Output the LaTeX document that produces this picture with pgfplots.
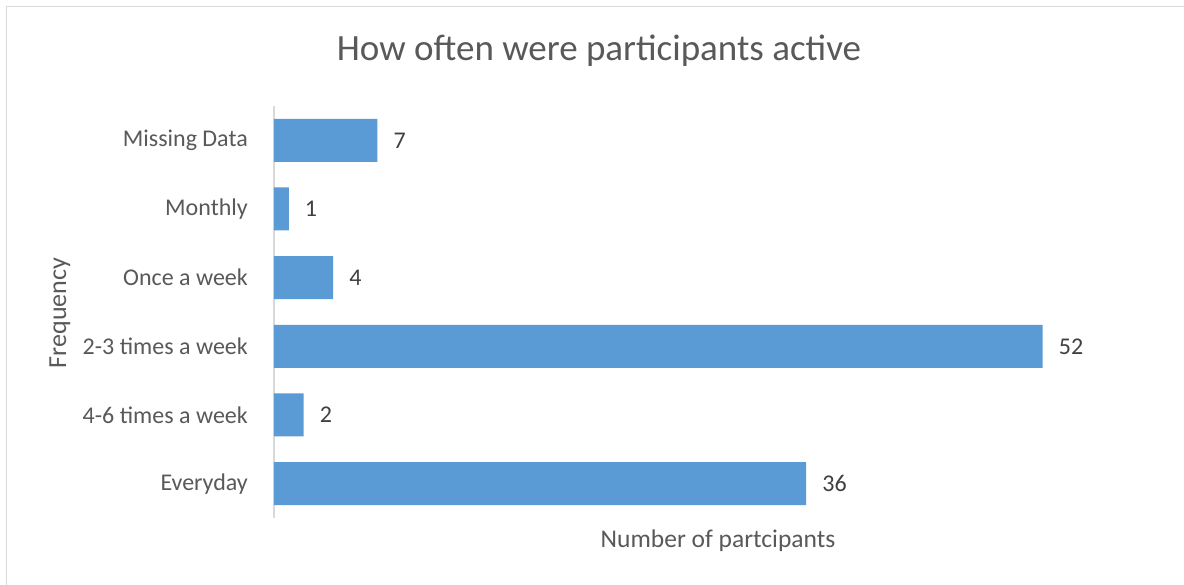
\documentclass[border=0pt]{standalone}
\usepackage{pgfplots}
\pgfplotsset{compat=1.18}
\usepackage{fontspec}
\setmainfont{Carlito}
\definecolor{barblue}{HTML}{5B9BD5}
\definecolor{txtgrey}{HTML}{595959}
\definecolor{valgrey}{HTML}{404040}
\definecolor{linegrey}{HTML}{D9D9D9}
\begin{document}
\begin{tikzpicture}[x=1bp,y=1bp]
\path[use as bounding box] (-274,-67) rectangle (910,518);
\fill[white] (-274,-67) rectangle (910,518);
\draw[linegrey, line width=1.5bp] (-267.5,-70) -- (-267.5,511.5) -- (915,511.5);
\begin{axis}[
  at={(0,0)}, anchor=south west,
  scale only axis, width=887bp, height=412bp,
  xbar, bar width=43bp,
  xmin=0, xmax=60, ymin=-0.5, ymax=5.5,
  axis x line=none, axis y line*=left,
  y axis line style={draw=linegrey, line width=1.5bp, -},
  major tick length=0pt,
  ytick={0,1,2,3,4,5},
  yticklabels={Everyday,4-6 times a week,2-3 times a week,Once a week,Monthly,Missing Data},
  yticklabel style={font=\fontsize{24bp}{28bp}\selectfont, text=txtgrey, inner sep=0pt, anchor=east, xshift=-26bp},
  /pgf/number format/assume math mode=true,
  nodes near coords,
  every node near coord/.append style={font=\fontsize{24bp}{28bp}\selectfont, text=valgrey, anchor=west, inner sep=0pt, xshift=16bp},
  clip=false,
]
\addplot[fill=barblue, draw=none] coordinates {(36,0) (2,1) (52,2) (4,3) (1,4) (7,5)};
\end{axis}
\node[text=txtgrey, font=\fontsize{37bp}{42bp}\selectfont] at (325,467) {How often were participants active};
\node[text=txtgrey, font=\fontsize{25.5bp}{30bp}\selectfont] at (444,-23) {Number of partcipants};
\node[text=txtgrey, font=\fontsize{26bp}{30bp}\selectfont, rotate=90] at (-214,205) {Frequency};
\end{tikzpicture}
\end{document}
